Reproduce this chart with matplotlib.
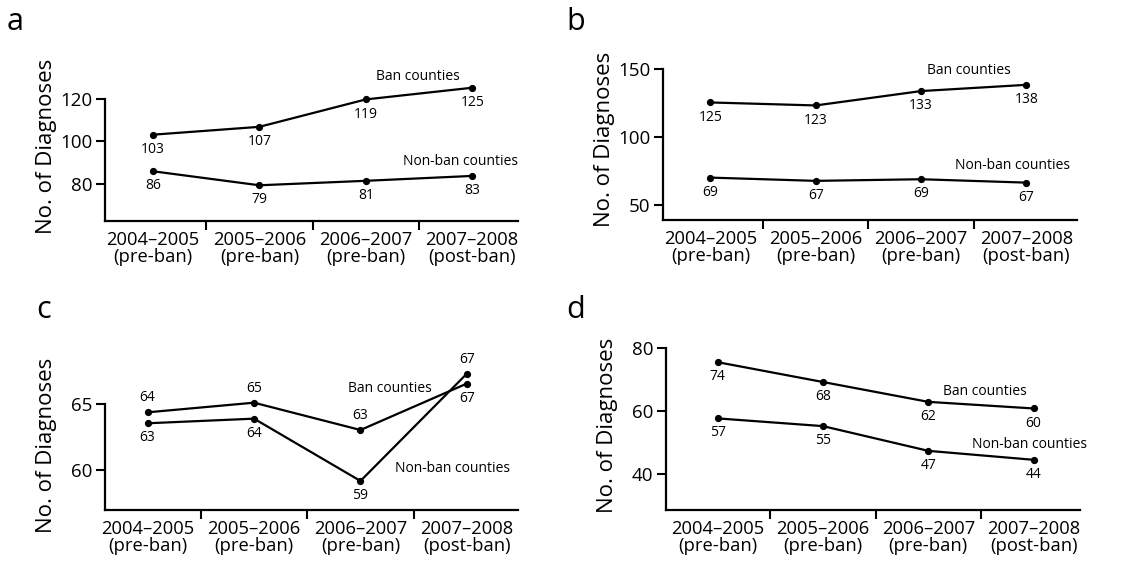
import matplotlib
matplotlib.use("Agg")
import matplotlib.pyplot as plt

plt.rcParams['font.family'] = ['Open Sans', 'DejaVu Sans']

periods = ["2004–2005\n(pre-ban)", "2005–2006\n(pre-ban)",
           "2006–2007\n(pre-ban)", "2007–2008\n(post-ban)"]

ban_a = [103.2, 106.9, 119.8, 125.3]
ban_a_labels = ["103", "107", "119", "125"]
nonban_a = [86.0, 79.4, 81.5, 83.8]
nonban_a_labels = ["86", "79", "81", "83"]

ban_b = [125.6, 123.4, 134.0, 138.6]
ban_b_labels = ["125", "123", "133", "138"]
nonban_b = [70.2, 67.8, 69.0, 66.5]
nonban_b_labels = ["69", "67", "69", "67"]

ban_c = [64.37, 65.1, 63.03, 66.55]
ban_c_labels = ["64", "65", "63", "67"]
nonban_c = [63.54, 63.89, 59.17, 67.3]
nonban_c_labels = ["63", "64", "59", "67"]

ban_d = [75.6, 69.3, 63.0, 60.9]
ban_d_labels = ["74", "68", "62", "60"]
nonban_d = [57.75, 55.3, 47.45, 44.6]
nonban_d_labels = ["57", "55", "47", "44"]

W, H = 1125, 567
fig = plt.figure(figsize=(W / 100, H / 100), dpi=100)


def rect(l, t, r, b):
    return [l / W, 1 - b / H, (r - l) / W, (b - t) / H]


def panel(box, letter, letter_xy, ban, ban_lab, non, non_lab, xlim, ylim,
          yticks, ban_side, non_side, ban_txt, non_txt, ylab_y):
    ax = fig.add_axes(rect(*box))
    x = range(len(periods))
    for vals, labs, side in [(ban, ban_lab, ban_side), (non, non_lab, non_side)]:
        ax.plot(x, vals, color='black', lw=1.6, marker='o', ms=4.2, clip_on=False)
        for xi, v, lab, s in zip(x, vals, labs, side):
            ax.annotate(lab, (xi, v), xytext=(0, 10.5 * s), textcoords='offset points',
                        ha='center', va='center', fontsize=10)
    ax.text(ban_txt[0], ban_txt[1], "Ban counties", ha='center', va='center', fontsize=10)
    ax.text(non_txt[0], non_txt[1], "Non-ban counties", ha='center', va='center', fontsize=10)

    ax.set_xlim(*xlim)
    ax.set_ylim(*ylim)
    ax.set_xticks(list(x))
    ax.set_xticklabels(periods, fontsize=13.2, linespacing=0.95)
    ax.set_xticks([0.5, 1.5, 2.5], minor=True)
    ax.tick_params(axis='x', which='major', length=0, pad=7)
    ax.tick_params(axis='x', which='minor', length=6.5, width=1.5, direction='out')
    ax.set_yticks(yticks)
    ax.tick_params(axis='y', length=6.5, width=1.5, direction='out', pad=2.5, labelsize=13.5)

    for s in ['top', 'right']:
        ax.spines[s].set_visible(False)
    ax.spines['left'].set_bounds(ylim[0], yticks[-1])
    ax.spines['left'].set_linewidth(1.6)
    ax.spines['bottom'].set_linewidth(1.6)
    ax.patch.set_visible(False)

    ax.set_ylabel("No. of Diagnoses", fontsize=16)
    ax.yaxis.set_label_coords(-48 / (box[2] - box[0]), ylab_y)

    fig.text(letter_xy[0] / W, 1 - letter_xy[1] / H, letter, fontsize=22,
             ha='left', va='baseline')
    return ax


panel((105, 60, 518, 221), 'a', (7, 30), ban_a, ban_a_labels, nonban_a, nonban_a_labels,
      (-0.45, 3.43), (62.59, 138.35), [80, 100, 120],
      [-1, -1, -1, -1], [-1, -1, -1, -1], (2.49, 130.4), (2.89, 90.7), 0.466)

panel((663, 60, 1077, 220), 'b', (566, 30), ban_b, ban_b_labels, nonban_b, nonban_b_labels,
      (-0.45, 3.48), (38.95, 156.9), [50, 100, 150],
      [-1, -1, -1, -1], [-1, -1, -1, -1], (2.45, 148.8), (2.87, 78.9), 0.506)

panel((105, 345, 518, 510), 'c', (36, 318), ban_c, ban_c_labels, nonban_c, nonban_c_labels,
      (-0.40, 3.48), (56.97, 69.47), [60, 65],
      [1, 1, 1, -1], [-1, -1, -1, 1], (2.28, 66.14), (2.86, 60.15), 0.394)

panel((666, 345, 1080, 510), 'd', (566, 318), ban_d, ban_d_labels, nonban_d, nonban_d_labels,
      (-0.49, 3.44), (28.67, 81.05), [40, 60, 80],
      [-1, -1, -1, -1], [-1, -1, -1, -1], (2.54, 66.3), (2.96, 49.5), 0.51)

fig.savefig("out.png", dpi=100)
